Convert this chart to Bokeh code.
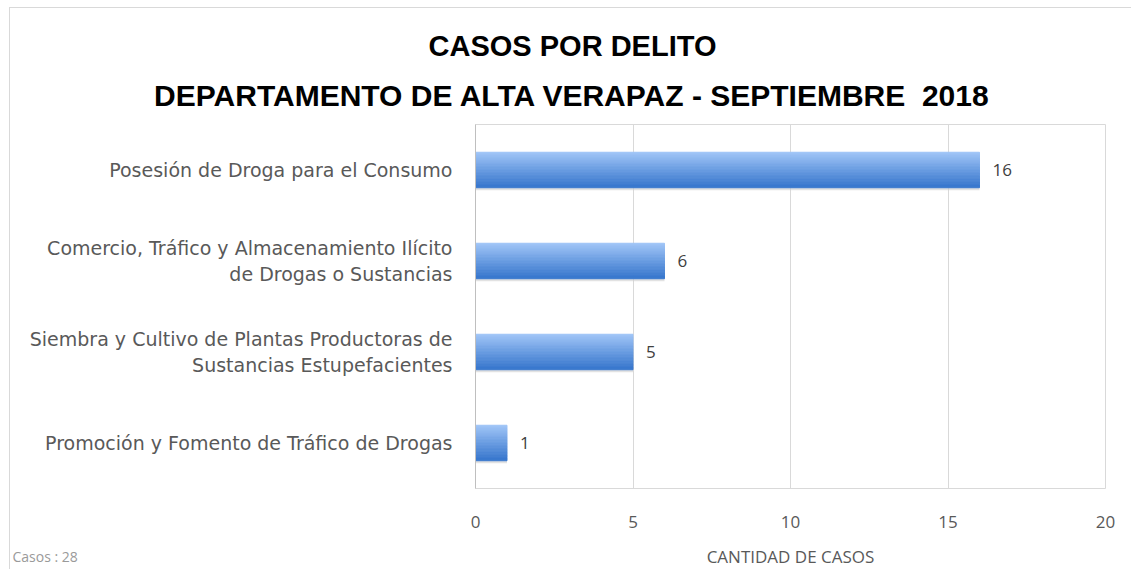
from bokeh.plotting import figure
from bokeh.models import FactorRange, Range1d, Label, ColumnDataSource, FixedTicker, LabelSet
from bokeh.layouts import column
from bokeh.transform import dodge
from bokeh.core.properties import value
from bokeh.embed import file_html
from bokeh.resources import INLINE

categories = [
    "Posesión de Droga para el Consumo",
    "Comercio, Tráfico y Almacenamiento Ilícito\nde Drogas o Sustancias",
    "Siembra y Cultivo de Plantas Productoras de\nSustancias Estupefacientes",
    "Promoción y Fomento de Tráfico de Drogas",
]
casos = [16, 6, 5, 1]
x_ticks = [0, 5, 10, 15, 20]
title_1 = "CASOS POR DELITO"
title_2 = "DEPARTAMENTO DE ALTA VERAPAZ - SEPTIEMBRE\u00a0 2018"
x_title = "CANTIDAD DE CASOS"
total_label = "Casos : 28"

# page offsets of the outer chart border
OX, OY = 10, 8
W = 1131 - OX
H_TOP, H_MAIN, H_BOT = 124 - 4 - OY, 420, 29


def strip(height):
    f = figure(width=W, height=height, output_backend="svg", toolbar_location=None,
               x_axis_location=None, y_axis_location=None, frame_align=False,
               min_border_left=0, min_border_right=0, min_border_top=0, min_border_bottom=0,
               x_range=Range1d(0, 1), y_range=Range1d(0, 1))
    f.title.text = ""
    f.outline_line_color = None
    f.xgrid.visible = False
    f.ygrid.visible = False
    return f


# --- title strip ---
top = strip(H_TOP)
for txt, yc, fs in [(title_1, 45, "29px"), (title_2, 95, "30px")]:
    top.add_layout(Label(x=572 - OX, y=H_TOP - (yc - OY), x_units="screen", y_units="screen",
                         text=txt, text_align="center", text_baseline="middle",
                         text_font="Liberation Sans", text_font_size=fs,
                         text_font_style="bold", text_color="#000000"))

# --- main chart ---
src = ColumnDataSource(dict(cat=categories, val=casos, lbl=[str(v) for v in casos]))

p = figure(width=W, height=H_MAIN, output_backend="svg", toolbar_location=None,
           y_range=FactorRange(*reversed(categories)), x_range=Range1d(0, 20),
           frame_align=False,
           min_border_left=475 - OX, min_border_right=26, min_border_top=4, min_border_bottom=52)
p.title.text = ""

BAR_H = 0.39
# soft shadow under the bars
p.hbar(y=dodge("cat", -BAR_H / 2 - 0.012, range=p.y_range), right="val", left=0,
       height=0.03, source=src, fill_color="#cfcfcf", fill_alpha=0.6, line_color=None)
N = 12
c_top = (0x9d, 0xc3, 0xf6)
c_bot = (0x3a, 0x79, 0xce)
for i in range(N):
    t = i / (N - 1)
    col = "#%02x%02x%02x" % tuple(int(c_top[k] + (c_bot[k] - c_top[k]) * t) for k in range(3))
    off = BAR_H / 2 - BAR_H / N * (i + 0.5)
    p.hbar(y=dodge("cat", off, range=p.y_range), right="val", left=0,
           height=BAR_H / N, source=src,
           fill_color=col, line_color=col, line_width=1)

labels = LabelSet(x="val", y="cat", text="lbl", source=src, x_offset=13,
                  text_baseline="middle", text_font_size="17px",
                  text_color="#404040", text_font=value("Open Sans"))
p.add_layout(labels)

p.xaxis.ticker = FixedTicker(ticks=x_ticks)
p.xaxis.axis_line_color = None
p.xaxis.major_tick_line_color = None
p.xaxis.minor_tick_line_color = None
p.xaxis.major_label_standoff = 21
p.xaxis.major_label_text_font = "Open Sans"
p.xaxis.major_label_text_font_size = "17px"
p.xaxis.major_label_text_color = "#595959"

p.yaxis.axis_line_color = "#bfbfbf"
p.yaxis.major_tick_line_color = None
p.yaxis.minor_tick_line_color = None
p.yaxis.major_label_standoff = 17
p.yaxis.major_label_text_font = "DejaVu Sans"
p.yaxis.major_label_text_font_size = "19px"
p.yaxis.major_label_text_color = "#595959"
p.yaxis.major_label_text_align = "center"

p.xgrid.grid_line_color = "#d9d9d9"
p.ygrid.grid_line_color = None
p.outline_line_color = "#d9d9d9"

# --- bottom strip ---
bot = strip(H_BOT)
yb = OY + H_TOP + H_MAIN + H_BOT - 556
bot.add_layout(Label(x=790 - OX, y=yb, x_units="screen", y_units="screen",
                     text=x_title, text_align="center", text_baseline="middle",
                     text_font="Open Sans", text_font_size="17px", text_color="#595959"))
bot.add_layout(Label(x=2, y=yb, x_units="screen", y_units="screen",
                     text=total_label, text_baseline="middle",
                     text_font="Open Sans", text_font_size="14px", text_color="#9a9a9a"))

layout = column(top, p, bot, spacing=0,
                styles={"margin-left": f"{OX - 1}px", "margin-top": f"{OY - 1}px",
                        "border-left": "1px solid #d9d9d9", "border-top": "1px solid #d9d9d9"})
open("out.html", "w").write(file_html(layout, INLINE))
